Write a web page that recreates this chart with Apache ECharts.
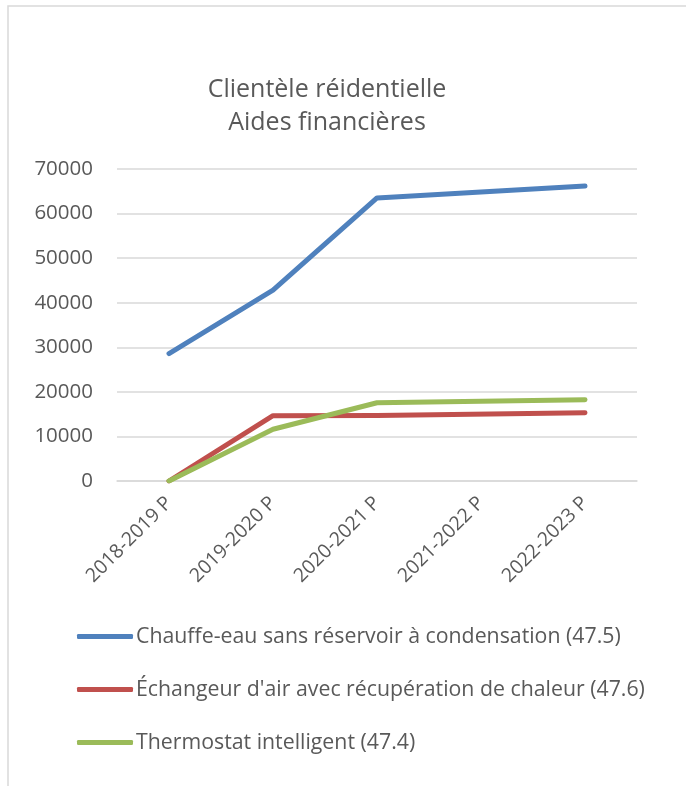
<!DOCTYPE html>
<html>
<head>
<meta charset="utf-8">
<script src="https://cdn.jsdelivr.net/npm/echarts@6/dist/echarts.min.js"></script>
<style>
  html, body { margin: 0; padding: 0; background: #fff; }
  #main { width: 686px; height: 786px; }
</style>
</head>
<body>
<div id="main"></div>
<script>
// données du graphique
var categories = ['2018-2019 P', '2019-2020 P', '2020-2021 P', '2021-2022 P', '2022-2023 P'];
var chauffeEau = [28600, 42800, 63500, null, 66200];
var echangeur = [0, 14650, 14700, null, 15300];
var thermostat = [0, 11600, 17550, null, 18250];
var seriesNames = [
    'Chauffe-eau sans réservoir à condensation (47.5)',
    "Échangeur d'air avec récupération de chaleur (47.6)",
    'Thermostat intelligent (47.4)'
];
var yTicks = [0, 70000, 10000]; // min, max, interval

var font = 'Open Sans';
var chart = echarts.init(document.getElementById('main'));

var option = {
    backgroundColor: '#fff',
    color: ['#4f81bd', '#c0504d', '#9bbb59'],
    textStyle: { fontFamily: font },
    title: {
        text: 'Clientèle réidentielle\nAides financières',
        left: 322,
        top: 68,
        textAlign: 'center',
        textStyle: { fontFamily: font, fontSize: 25, fontWeight: 'normal', color: '#595959', lineHeight: 33 }
    },
    graphic: [{
        type: 'rect',
        shape: { x: 8, y: 6, width: 700, height: 800 },
        style: { fill: 'none', stroke: '#d9d9d9', lineWidth: 1.5 },
        silent: true
    }],
    legend: {
        orient: 'vertical',
        left: 72,
        top: 621,
        itemWidth: 56,
        itemHeight: 5,
        itemGap: 32,
        icon: 'roundRect',
        data: seriesNames,
        textStyle: { fontFamily: font, fontSize: 21.3, color: '#595959', padding: [0, 0, 0, -2] }
    },
    grid: { left: 117, right: 49, top: 169, bottom: 305, containLabel: false },
    xAxis: {
        type: 'category',
        data: categories,
        boundaryGap: true,
        axisLine: { lineStyle: { color: '#d9d9d9', width: 1.5 } },
        axisTick: { show: false },
        axisLabel: { rotate: 45, interval: 0, margin: 19, fontFamily: font, fontSize: 19.5, color: '#595959' }
    },
    yAxis: {
        type: 'value',
        min: yTicks[0],
        max: yTicks[1],
        interval: yTicks[2],
        axisLine: { show: false },
        axisTick: { show: false },
        splitLine: { lineStyle: { color: '#d9d9d9', width: 1.5 } },
        axisLabel: { margin: 24, fontFamily: font, fontSize: 20.5, color: '#595959', formatter: function (v) { return String(v); } }
    },
    series: [
        { name: seriesNames[0], type: 'line', data: chauffeEau },
        { name: seriesNames[1], type: 'line', data: echangeur },
        { name: seriesNames[2], type: 'line', data: thermostat }
    ].map(function (s) {
        s.connectNulls = true;
        s.showSymbol = false;
        s.symbol = 'none';
        s.lineStyle = { width: 5, cap: 'round', join: 'round' };
        s.animation = false;
        return s;
    })
};
chart.setOption(option);
</script>
</body>
</html>
